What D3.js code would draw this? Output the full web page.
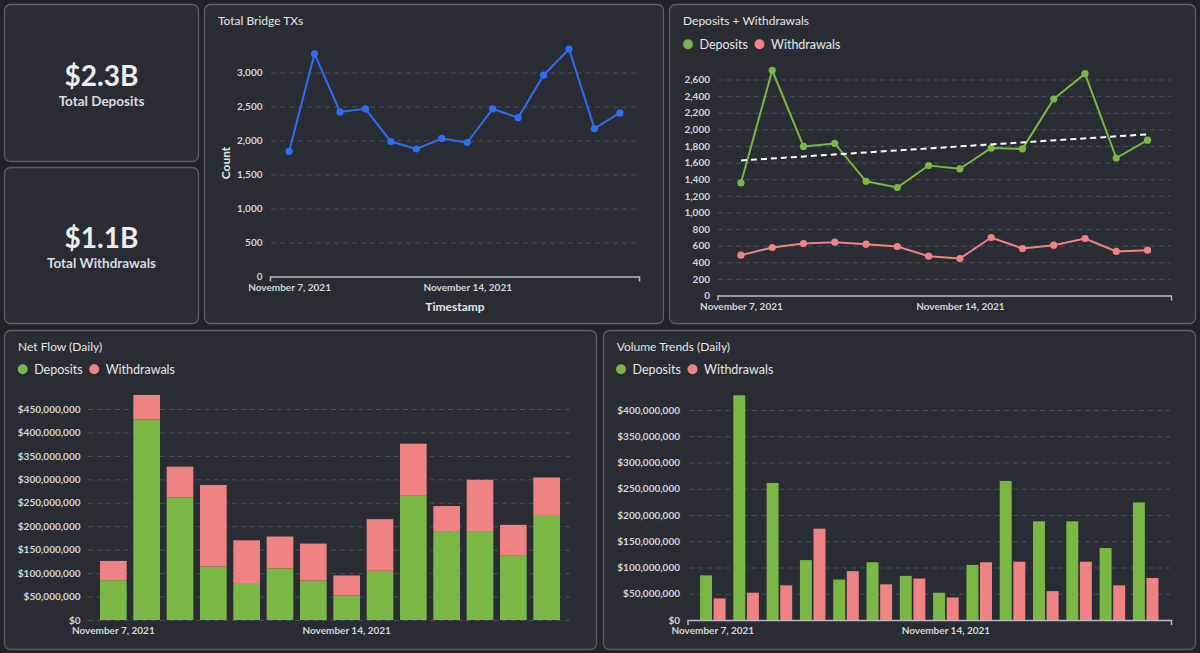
<!DOCTYPE html>
<html>
<head>
<meta charset="utf-8">
<script src="https://cdn.jsdelivr.net/npm/d3@7"></script>
<style>
  body { margin: 0; background: #1f2227; }
  svg { display: block; font-family: Lato, "Open Sans", sans-serif; }
</style>
</head>
<body>
<svg></svg>
<script>
// daily data, Nov 7 - Nov 20 2021
var dates = ["2021-11-07", "2021-11-08", "2021-11-09", "2021-11-10", "2021-11-11", "2021-11-12", "2021-11-13",
             "2021-11-14", "2021-11-15", "2021-11-16", "2021-11-17", "2021-11-18", "2021-11-19", "2021-11-20"];
var xTickDates = ["2021-11-07", "2021-11-14"];

var bridgeTxs = [1840, 3275, 2420, 2465, 1985, 1875, 2030, 1970, 2465, 2335, 2960, 3345, 2175, 2405];
var depositCount = [1355, 2710, 1795, 1830, 1375, 1300, 1565, 1525, 1775, 1765, 2365, 2670, 1655, 1870];
var withdrawalCount = [485, 578, 626, 642, 618, 590, 473, 445, 698, 566, 606, 686, 530, 545];
var trendCount = [1625, 1940]; // dashed trend, first and last day

// USD volumes in millions
var depositVolume = [85, 428, 261, 114, 77, 110, 84, 52, 105, 265, 188, 188, 137, 224];
var withdrawalVolume = [41, 52, 66, 174, 93, 68, 79, 43, 110, 111, 55, 111, 66, 80];

var kpiValues = ["$2.3B", "$1.1B"];
var kpiLabels = ["Total Deposits", "Total Withdrawals"];

var bridgeTicks = [0, 500, 1000, 1500, 2000, 2500, 3000];
var countTicks = [0, 200, 400, 600, 800, 1000, 1200, 1400, 1600, 1800, 2000, 2200, 2400, 2600];
var netTicks = [0, 50, 100, 150, 200, 250, 300, 350, 400, 450];
var volTicks = [0, 50, 100, 150, 200, 250, 300, 350, 400];

var green = "#7ab744", red = "#ef8383", blue = "#2f6ef3";
var textColor = "#e4e6e9", tickColor = "#d3d6da", gridColor = "#4b5058", axisColor = "#b8bcc2";

var svg = d3.select("svg").attr("width", 1200).attr("height", 653);

var parse = d3.timeParse("%Y-%m-%d"),
    fmtDate = function (d) { return d3.timeFormat("%B %-d, %Y")(parse(d)); },
    fmtUsd = function (d) { return "$" + d3.format(",")(d * 1e6); };

function panel(x, y, w, h) {
    svg.append("rect")
        .attr("x", x).attr("y", y)
        .attr("width", w).attr("height", h)
        .attr("rx", 6)
        .style("fill", "#292c33")
        .style("stroke", "#5b5f67")
        .style("stroke-width", 1.3);
}

function title(x, y, t) {
    svg.append("text")
        .attr("x", x).attr("y", y).attr("dy", "0.35em")
        .style("font-size", "12px")
        .style("fill", textColor)
        .text(t);
}

function legend(x, y) {
    var items = [["Deposits", green, 0], ["Withdrawals", red, 71.5]];
    items.forEach(function (it) {
        svg.append("circle")
            .attr("cx", x + it[2]).attr("cy", y).attr("r", 5)
            .style("fill", it[1]);
        svg.append("text")
            .attr("x", x + it[2] + 11.5).attr("y", y).attr("dy", "0.35em")
            .style("font-size", "12.5px")
            .style("fill", textColor)
            .text(it[0]);
    });
}

function grid(y, ticks, x0, x1) {
    svg.append("g")
        .selectAll("line")
        .data(ticks)
        .enter()
        .append("line")
        .attr("x1", x0).attr("x2", x1)
        .attr("y1", function (d) { return y(d) + 0.5; })
        .attr("y2", function (d) { return y(d) + 0.5; })
        .style("stroke", gridColor)
        .style("stroke-dasharray", "5,4");
}

function yAxis(x, y, ticks, fmt) {
    var g = svg.append("g")
        .attr("transform", "translate(" + x + ",0)")
        .call(d3.axisLeft(y).tickValues(ticks).tickSize(0).tickPadding(7.5).tickFormat(fmt));
    g.select(".domain").remove();
    g.selectAll("text")
        .style("font-family", "Lato")
        .style("font-size", "10px")
        .style("font-weight", "bold")
        .style("fill", tickColor);
}

function xAxis(y, x, showLine) {
    var g = svg.append("g")
        .attr("transform", "translate(0," + y + ")")
        .call(d3.axisBottom(x).tickValues(xTickDates).tickSizeInner(0).tickSizeOuter(5)
            .tickPadding(7).tickFormat(fmtDate));
    if (showLine) {
        g.select(".domain").style("stroke", axisColor).style("stroke-width", 1.5);
    } else {
        g.select(".domain").remove();
    }
    g.selectAll("text")
        .style("font-family", "Lato")
        .style("font-size", "10px")
        .style("font-weight", "bold")
        .style("fill", tickColor);
}

function lineWithDots(x, y, values, color) {
    var line = d3.line()
        .x(function (d, i) { return x(dates[i]); })
        .y(function (d) { return y(d); });
    svg.append("path")
        .datum(values)
        .attr("d", line)
        .style("fill", "none")
        .style("stroke", color)
        .style("stroke-width", 2);
    svg.append("g")
        .selectAll("circle")
        .data(values)
        .enter()
        .append("circle")
        .attr("cx", function (d, i) { return x(dates[i]); })
        .attr("cy", function (d) { return y(d); })
        .attr("r", 3.6)
        .style("fill", color);
}

// panels
panel(4.5, 4.5, 194, 157);
panel(4.5, 167.5, 194, 156);
panel(204.5, 4.5, 459, 319);
panel(669.5, 4.5, 526, 319);
panel(4.5, 330.5, 592, 319);
panel(603.5, 330.5, 592, 319);

// KPI cards
[76.5, 238.5].forEach(function (cy, i) {
    svg.append("text")
        .attr("x", 101.5).attr("y", cy).attr("dy", "0.35em")
        .attr("text-anchor", "middle")
        .style("font-size", "28px")
        .style("font-weight", "bold")
        .style("fill", "#eceef0")
        .text(kpiValues[i]);
    svg.append("text")
        .attr("x", 101.5).attr("y", cy + 24.5).attr("dy", "0.35em")
        .attr("text-anchor", "middle")
        .style("font-size", "13.5px")
        .style("font-weight", "bold")
        .style("fill", "#dadde0")
        .text(kpiLabels[i]);
});

// Total Bridge TXs
title(218, 21, "Total Bridge TXs");
var bx = d3.scalePoint().domain(dates).range([270, 639]).padding(0.75),
    by = d3.scaleLinear().domain([0, 3000]).range([276.5, 72.5]);
grid(by, bridgeTicks.slice(1), 271, 638);
yAxis(270, by, bridgeTicks, d3.format(","));
xAxis(276.5, bx, true);
lineWithDots(bx, by, bridgeTxs, blue);

svg.append("text")
    .attr("text-anchor", "middle")
    .attr("transform", "translate(226,163)rotate(-90)")
    .attr("dy", "0.35em")
    .style("font-size", "12px")
    .style("font-weight", "bold")
    .style("fill", textColor)
    .text("Count");
svg.append("text")
    .attr("x", 455).attr("y", 307).attr("dy", "0.35em")
    .attr("text-anchor", "middle")
    .style("font-size", "12px")
    .style("font-weight", "bold")
    .style("fill", textColor)
    .text("Timestamp");

// Deposits + Withdrawals
title(683, 21, "Deposits + Withdrawals");
legend(688, 44.3);
var dx = d3.scalePoint().domain(dates).range([717.5, 1171]).padding(0.75),
    dy = d3.scaleLinear().domain([0, 2600]).range([295.5, 79.5]);
grid(dy, countTicks.slice(1), 718, 1171);
yAxis(717.5, dy, countTicks, d3.format(","));
xAxis(295.5, dx, true);
lineWithDots(dx, dy, depositCount, green);
lineWithDots(dx, dy, withdrawalCount, red);

svg.append("path")
    .datum([[dates[0], trendCount[0]], [dates[dates.length - 1], trendCount[1]]])
    .attr("d", d3.line()
        .x(function (d) { return dx(d[0]); })
        .y(function (d) { return dy(d[1]); }))
    .style("fill", "none")
    .style("stroke", "#ffffff")
    .style("stroke-width", 2)
    .style("stroke-dasharray", "6,4");

// table for the bar charts
var volumeRows = dates.map(function (d, i) {
    return { date: d, deposits: depositVolume[i], withdrawals: withdrawalVolume[i] };
});

// Net Flow (Daily) - stacked
title(18, 346.5, "Net Flow (Daily)");
legend(22.7, 369.3);
var nx = d3.scaleBand().domain(dates).range([88, 572]).paddingInner(0.2).paddingOuter(0.36),
    ny = d3.scaleLinear().domain([0, 450]).range([620, 409]);
grid(ny, netTicks, 88, 572);
yAxis(88, ny, netTicks.slice(1).concat([0]), fmtUsd);
xAxis(620, nx, false);

var stacked = d3.stack().keys(["deposits", "withdrawals"])(volumeRows);
svg.append("g")
    .selectAll("g")
    .data(stacked)
    .enter()
    .append("g")
    .style("fill", function (d) { return d.key == "deposits" ? green : red; })
    .selectAll("rect")
    .data(function (d) { return d; })
    .enter()
    .append("rect")
    .attr("x", function (d) { return nx(d.data.date); })
    .attr("y", function (d) { return ny(d[1]); })
    .attr("width", nx.bandwidth())
    .attr("height", function (d) { return ny(d[0]) - ny(d[1]); });

// Volume Trends (Daily) - grouped
title(616.7, 346.5, "Volume Trends (Daily)");
legend(621, 369.3);
var vx = d3.scaleBand().domain(dates).range([687.5, 1171]).paddingInner(0.2).paddingOuter(0.36),
    vx1 = d3.scaleBand().domain(["deposits", "withdrawals"]).range([0, vx.bandwidth()])
        .paddingInner(0.12).paddingOuter(0.04),
    vy = d3.scaleLinear().domain([0, 400]).range([620, 410]);
grid(vy, volTicks.slice(1), 689, 1170);
yAxis(687.5, vy, volTicks, fmtUsd);

svg.append("g")
    .selectAll("g")
    .data(volumeRows)
    .enter()
    .append("g")
    .attr("transform", function (d) { return "translate(" + vx(d.date) + ",0)"; })
    .selectAll("rect")
    .data(function (d) {
        return ["deposits", "withdrawals"].map(function (k) { return { key: k, value: d[k] }; });
    })
    .enter()
    .append("rect")
    .attr("x", function (d) { return vx1(d.key); })
    .attr("y", function (d) { return vy(d.value); })
    .attr("width", vx1.bandwidth())
    .attr("height", function (d) { return vy(0) - vy(d.value); })
    .style("fill", function (d) { return d.key == "deposits" ? green : red; });

xAxis(620, vx, true);
</script>
</body>
</html>
